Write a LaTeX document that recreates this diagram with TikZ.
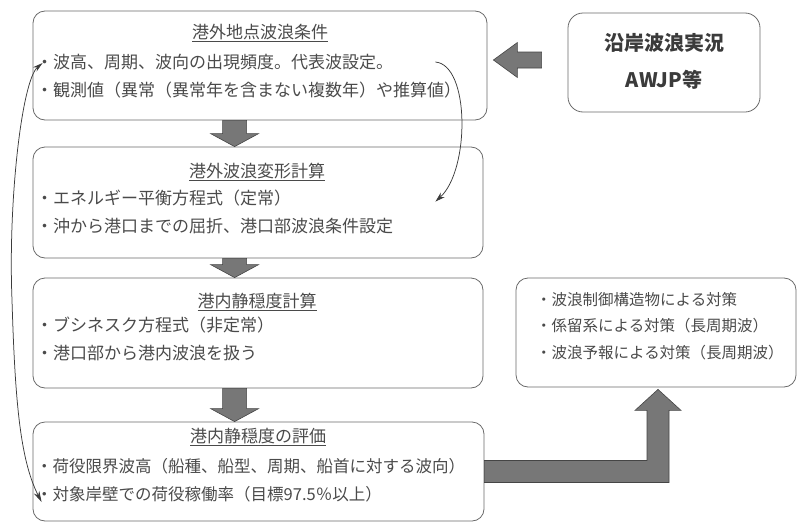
\documentclass[tikz,border=0pt]{standalone}
\usepackage{fontspec}
\setmainfont{Noto Sans CJK JP}
\usetikzlibrary{calc,arrows.meta}
\definecolor{txt}{HTML}{4A4A4A}
\definecolor{edge}{HTML}{6A6A6A}
\definecolor{blkfill}{HTML}{777777}
\definecolor{blkedge}{HTML}{454545}
\newcommand\downblk[2]{\draw[blk] ($(#1)+(-12,0)$) -- ($(#1)+(12,0)$) -- ($(#2)+(12,-13)$) -- ($(#2)+(24,-13)$) -- (#2) -- ($(#2)+(-24,-13)$) -- ($(#2)+(-12,-13)$) -- cycle;}
\begin{document}
\begin{tikzpicture}[x=1pt,y=-1pt,
  box/.style={draw=edge, line width=0.8pt, rounded corners=12pt, inner sep=0pt},
  title/.style={text=txt, font=\fontsize{17}{20}\selectfont, inner sep=0pt},
  body/.style={text=txt, font=\fontsize{17}{20}\selectfont, inner sep=0pt, anchor=west},
  bodysm/.style={text=txt, font=\fontsize{16.5}{20}\selectfont, inner sep=0pt, anchor=west},
  bodyxs/.style={text=txt, font=\fontsize{15.5}{20}\selectfont, inner sep=0pt, anchor=west},
  boldtxt/.style={text=txt!80!black, font=\fontsize{20}{24}\selectfont\bfseries, inner sep=0pt},
  blk/.style={fill=blkfill, draw=blkedge, line width=0.6pt},
  curve/.style={draw=txt!80!black, line width=0.75pt}]
\useasboundingbox (0,0) rectangle (797,522);

% boxes
\node[box, minimum width=454pt, minimum height=109pt] (b1) at (260,65.5) {};
\node[box, minimum width=192pt, minimum height=99pt, rounded corners=15pt] (b2) at (664,62.5) {};
\node[box, minimum width=450pt, minimum height=111pt] (b3) at (258,202.5) {};
\node[box, minimum width=450pt, minimum height=110pt] (b4) at (258,333) {};
\node[box, minimum width=451pt, minimum height=99pt] (b5) at (258.5,471.5) {};
\node[box, minimum width=280pt, minimum height=109pt] (b6) at (656,332.5) {};

% texts
\node[title] (t1) at (260,33) {\underline{港外地点波浪条件}};
\node[body] (t1a) at (36,62) {・波高、周期、波向の出現頻度。代表波設定。};
\node[body] (t1b) at (36,90) {・観測値（異常（異常年を含まない複数年）や推算値）};

\node[boldtxt] (t2a) at (664,43) {沿岸波浪実況};
\node[boldtxt] (t2b) at (664,80) {AWJP等};

\node[title] (t3) at (257,172) {\underline{港外波浪変形計算}};
\node[body] (t3a) at (36,198) {・エネルギー平衡方程式（定常）};
\node[body] (t3b) at (36,226) {・沖から港口までの屈折、港口部波浪条件設定};

\node[title] (t4) at (257,302) {\underline{港内静穏度計算}};
\node[body] (t4a) at (36,325) {・ブシネスク方程式（非定常）};
\node[body] (t4b) at (36,353) {・港口部から港内波浪を扱う};

\node[title] (t5) at (258,437) {\underline{港内静穏度の評価}};
\node[bodysm] (t5a) at (36,466) {・荷役限界波高（船種、船型、周期、船首に対する波向）};
\node[bodysm] (t5b) at (36,494) {・対象岸壁での荷役稼働率（目標97.5％以上）};

\node[bodyxs] (t6a) at (536,300) {・波浪制御構造物による対策};
\node[bodyxs] (t6b) at (536,326) {・係留系による対策（長周期波）};
\node[bodyxs] (t6c) at (536,353) {・波浪予報による対策（長周期波）};

% down block arrows
\coordinate (d1s) at ($(b1.south west)+(202,0)$);
\coordinate (d1e) at (d1s |- b3.north);
\coordinate (d2s) at ($(b3.south west)+(202,0)$);
\coordinate (d2e) at (d2s |- b4.north);
\coordinate (d3s) at ($(b4.south west)+(202,0)$);
\coordinate (d3e) at (d3s |- b5.north);
\downblk{d1s}{d1e}
\downblk{d2s}{d2e}
\downblk{d3s}{d3e}

% left block arrow b2 -> b1
\coordinate (la) at ($(b2.west)+(-26,-2.5)$);
\coordinate (lbb) at (la -| b1.east);
\coordinate (lt) at ($(lbb)+(6,0)$);
\draw[blk] ($(la)+(0,-8)$) -- ($(lt)+(24,-8)$) -- ($(lt)+(24,-17.5)$) -- (lt) -- ($(lt)+(24,17.5)$) -- ($(lt)+(24,8)$) -- ($(la)+(0,8)$) -- cycle;

% bent block arrow b5 -> b6
\coordinate (bs) at (b5.east);
\coordinate (bt) at ($(b6.south)+(2,2)$);
\coordinate (bc) at (bt |- bs);
\draw[blk] ($(bs)+(0,-11)$) -- ($(bc)+(-11,-11)$) -- ($(bt)+(-11,21)$) -- ($(bt)+(-23,21)$) -- (bt) -- ($(bt)+(23,21)$) -- ($(bt)+(11,21)$) -- ($(bc)+(11,11)$) -- ($(bs)+(0,11)$) -- cycle;

% curved arrows
\coordinate (lc1) at ($(b1.west)+(10,-2.5)$);
\coordinate (lc2) at ($(b5.west)+(9,30.5)$);
\draw[curve, {Stealth[length=10pt,width=5.5pt]}-{Stealth[length=11pt,width=6pt]}] (lc1) .. controls (22,80) and (8,200) .. (12,300) .. controls (15,400) and (20,460) .. (lc2);
\coordinate (rc1) at ($(b1.east)+(-52,-3.5)$);
\coordinate (rc2) at ($(b3.north east)+(-48,55)$);
\draw[curve, -{Stealth[length=10pt,width=6pt]}] (rc1) .. controls (470,65) and (470,170) .. (rc2);
\end{tikzpicture}
\end{document}
